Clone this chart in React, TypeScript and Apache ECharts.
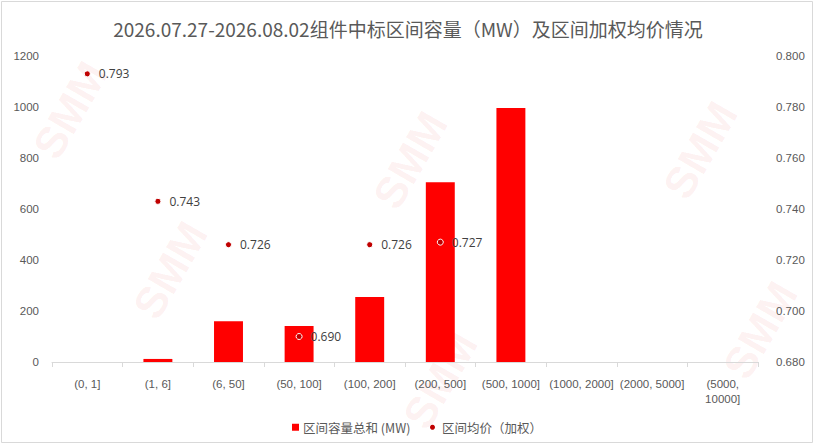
import React, { useEffect, useRef } from "react";
import * as echarts from "echarts";

const titleText = "2026.07.27-2026.08.02组件中标区间容量（MW）及区间加权均价情况";
const categories = ["(0, 1]", "(1, 6]", "(6, 50]", "(50, 100]", "(100, 200]", "(200, 500]", "(500, 1000]", "(1000, 2000]", "(2000, 5000]", "(5000,\n10000]"];
const capacity = [0, 12, 160, 141, 255, 705, 996, null, null, null];
const avgPrice = [0.793, 0.743, 0.726, 0.69, 0.726, 0.727, null, null, null, null];
const barName = "区间容量总和 (MW)";
const dotName = "区间均价（加权）";

const watermarks = [
  [70, 110], [170, 270], [410, 160], [440, 380], [700, 150], [760, 330],
];

export default function App() {
  const ref = useRef<HTMLDivElement>(null);
  useEffect(() => {
    document.body.style.margin = "0";
    if (!ref.current) return;
    const chart = echarts.init(ref.current, null, { renderer: "svg" });
    const font = "'Liberation Sans', Arial, sans-serif";
    const cjk = "'Noto Sans CJK SC', sans-serif";
    chart.setOption({
      animation: false,
      backgroundColor: "#ffffff",
      textStyle: { fontFamily: font },
      title: {
        text: titleText,
        left: "center",
        top: 14,
        textStyle: { fontSize: 19, fontWeight: "normal", color: "#595959", fontFamily: cjk },
      },
      graphic: [
        {
          type: "rect",
          shape: { x: 1.5, y: 1.5, width: 811, height: 441 },
          style: { fill: "none", stroke: "#D9D9D9", lineWidth: 1 },
          silent: true,
          z: -1,
        },
        ...watermarks.map(([x, y]) => ({
          type: "text",
          x,
          y,
          rotation: Math.PI / 3,
          silent: true,
          z: -1,
          style: {
            text: "SMM",
            fill: "rgba(230, 60, 60, 0.07)",
            font: "bold 44px 'Liberation Sans', Arial",
            textAlign: "center",
            textVerticalAlign: "middle",
          },
        })),
      ],
      legend: [
        {
          left: 287,
          top: 416,
          itemWidth: 7,
          itemHeight: 7,
          itemGap: 4,
          textStyle: { color: "#595959", fontSize: 12.5, fontFamily: cjk, padding: [0, 0, 0, -1] },
          data: [{ name: barName, icon: "rect" }],
        },
        {
          left: 425,
          top: 416,
          itemWidth: 5,
          itemHeight: 5,
          textStyle: { color: "#595959", fontSize: 12.5, fontFamily: cjk, padding: [0, 0, 0, 2] },
          data: [{ name: dotName, icon: "circle", itemStyle: { borderWidth: 0 } }],
        },
      ],
      grid: { left: 52, right: 58, top: 56, bottom: 86 },
      xAxis: {
        type: "category",
        data: categories,
        axisLine: { lineStyle: { color: "#D9D9D9" } },
        axisTick: { show: true, length: 5, lineStyle: { color: "#D9D9D9" } },
        axisLabel: { color: "#595959", fontSize: 11.5, margin: 14, interval: 0, lineHeight: 15 },
      },
      yAxis: [
        {
          type: "value",
          min: 0,
          max: 1200,
          interval: 200,
          splitLine: { show: false },
          axisLine: { show: false },
          axisTick: { show: false },
          axisLabel: { color: "#595959", fontSize: 11.5, margin: 13, formatter: (v: number) => String(v) },
        },
        {
          type: "value",
          min: 0.68,
          max: 0.8,
          interval: 0.02,
          splitLine: { show: false },
          axisLine: { show: false },
          axisTick: { show: false },
          axisLabel: { color: "#595959", fontSize: 11.5, margin: 18, formatter: (v: number) => v.toFixed(3) },
        },
      ],
      series: [
        {
          name: barName,
          type: "bar",
          data: capacity,
          barWidth: "41%",
          itemStyle: { color: "#FF0000" },
        },
        {
          name: dotName,
          type: "scatter",
          yAxisIndex: 1,
          data: avgPrice,
          symbol: "circle",
          symbolSize: 6,
          itemStyle: { color: "#C00000", borderColor: "#ffffff", borderWidth: 1, opacity: 1 },
          label: {
            show: true,
            position: "right",
            distance: 8,
            color: "#404040",
            fontSize: 12,
            fontFamily: "'Open Sans', sans-serif",
            formatter: (p: any) => Number(p.value).toFixed(3),
          },
          z: 5,
        },
      ],
    });
    return () => chart.dispose();
  }, []);
  return <div ref={ref} style={{ width: 816, height: 448 }} />;
}
